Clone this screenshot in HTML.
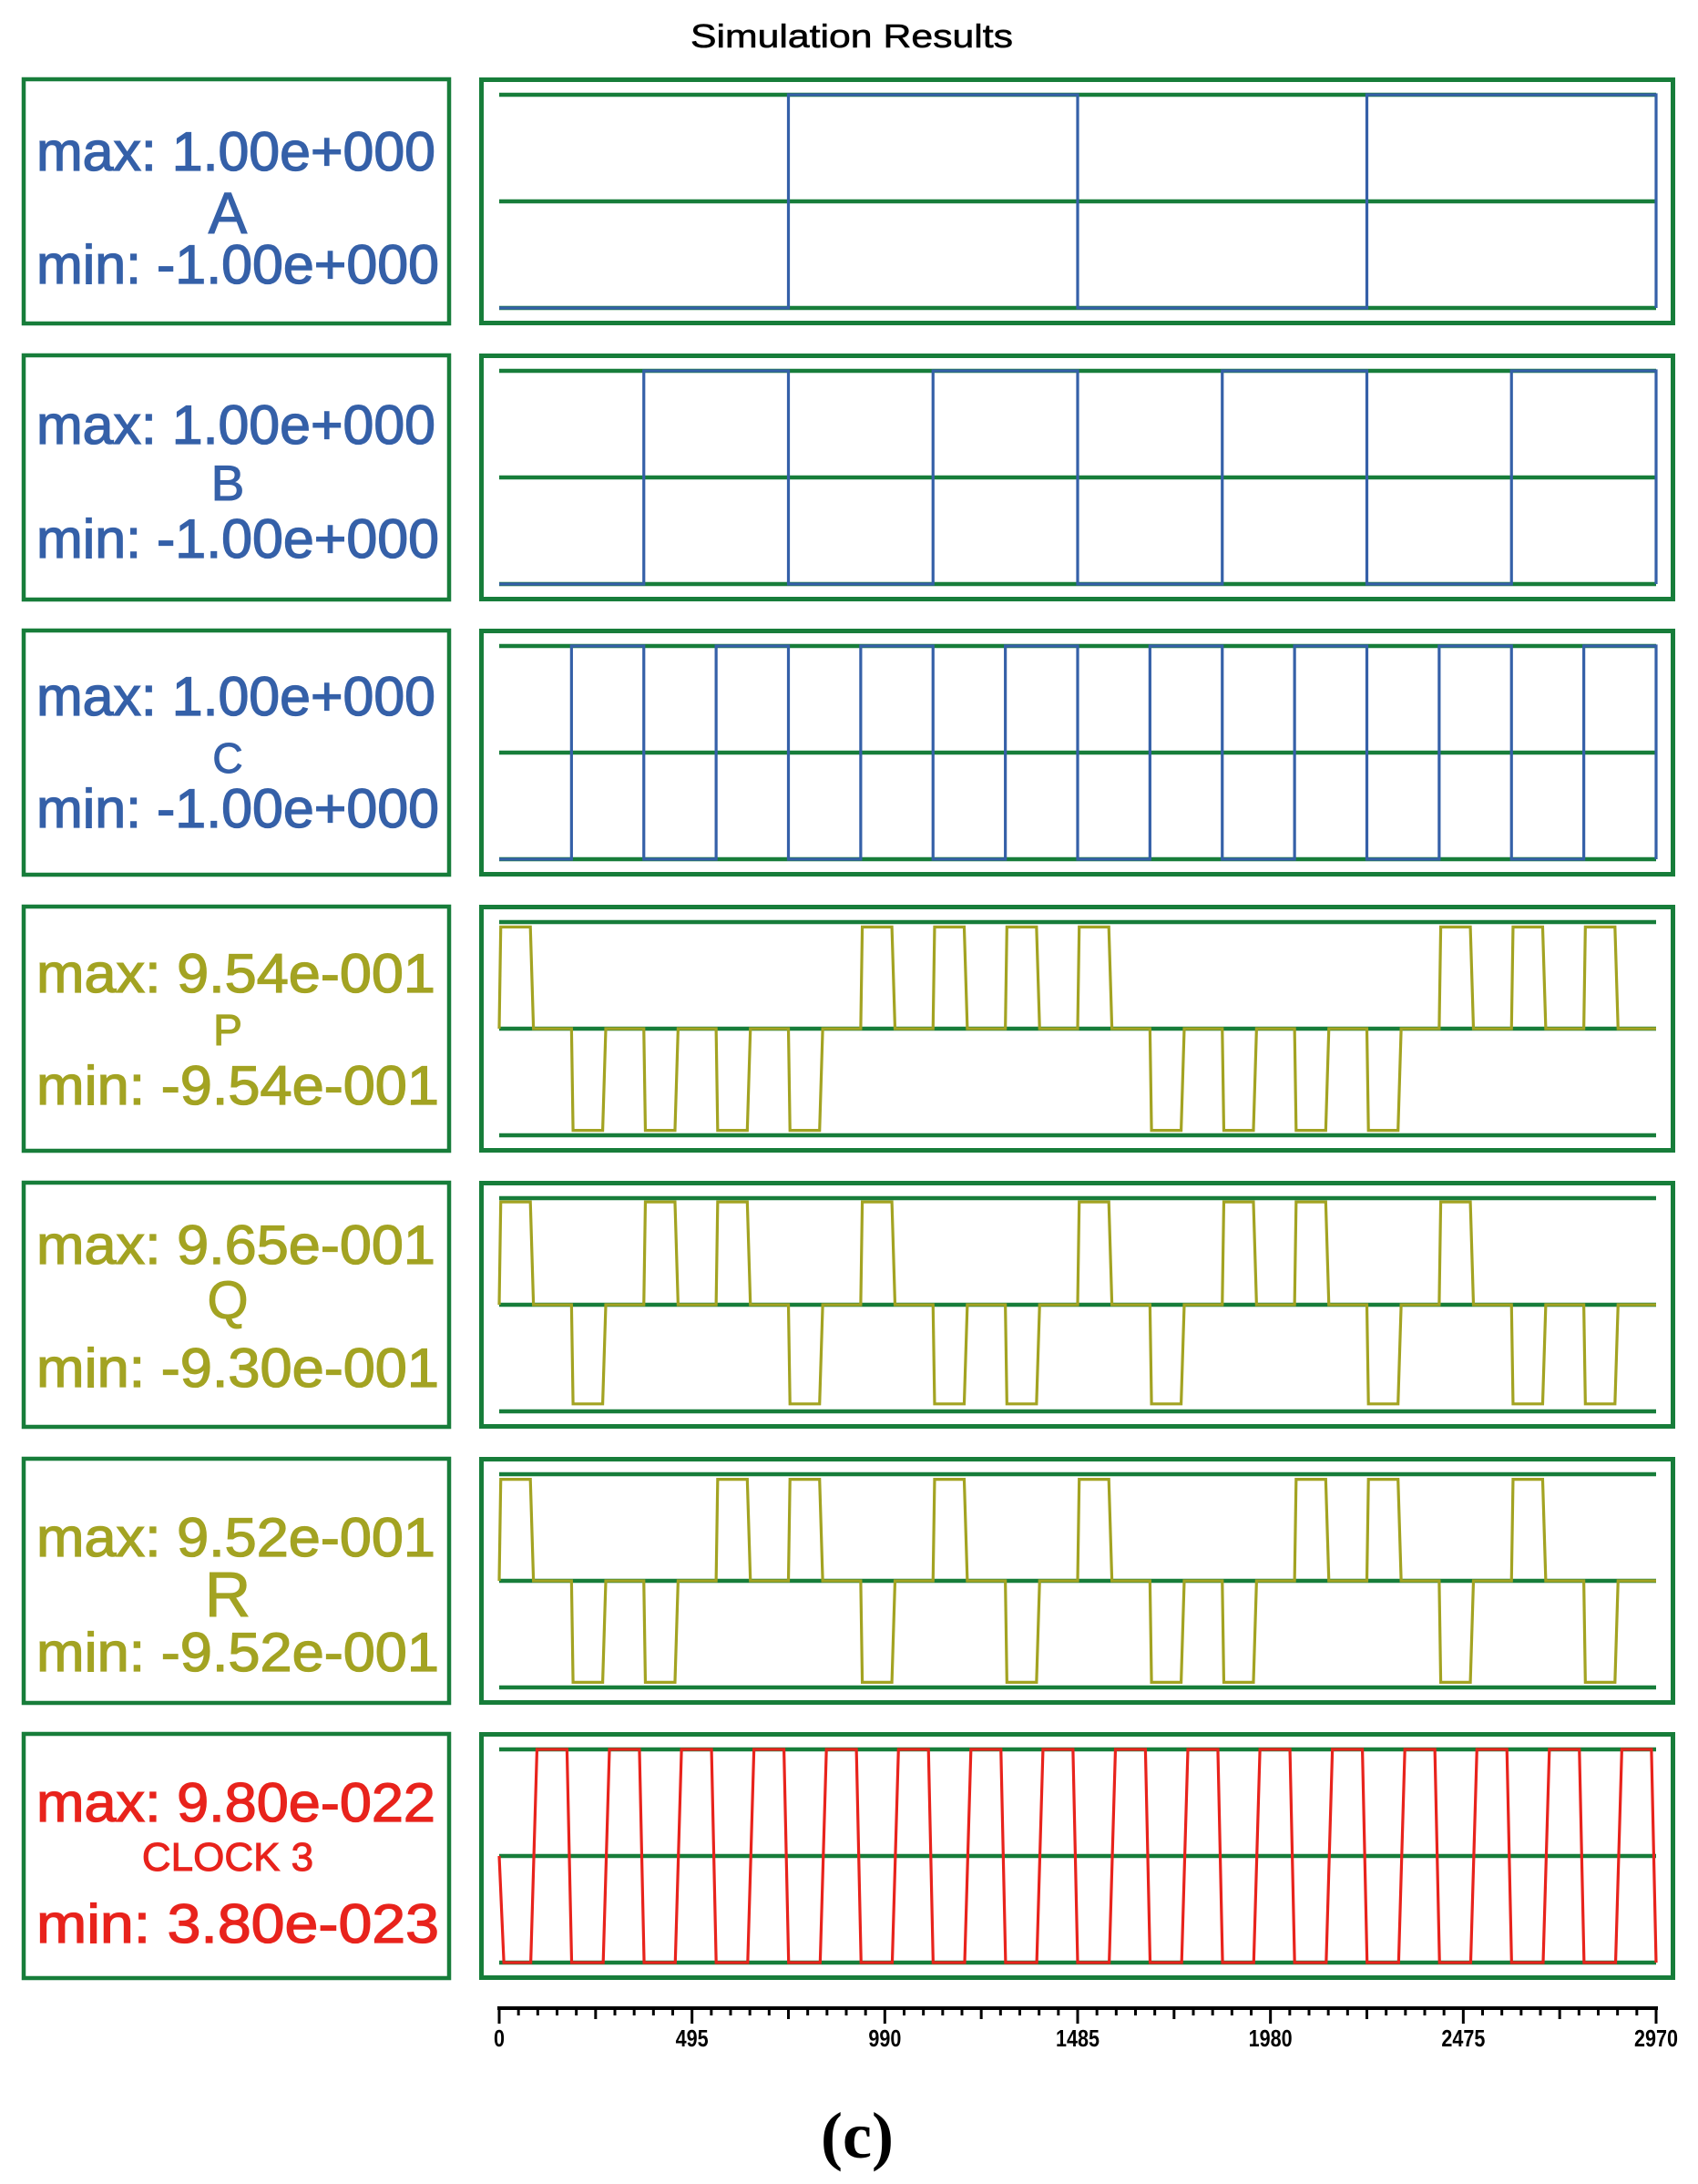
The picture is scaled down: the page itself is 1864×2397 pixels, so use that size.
<!DOCTYPE html>
<html><head><meta charset="utf-8"><style>
html,body{margin:0;padding:0;background:#fff;}
svg{display:block;}
text{font-family:"Liberation Sans",sans-serif;}
</style></head><body>
<svg id="chart" width="1864" height="2397" viewBox="0 0 1864 2397" xmlns="http://www.w3.org/2000/svg">
<text x="935" y="52" font-size="36" text-anchor="middle" textLength="354" lengthAdjust="spacingAndGlyphs" fill="#000" stroke="#000" stroke-width="0.6">Simulation Results</text>
<g id="panels"></g>
<g id="axis"></g>
<text x="941" y="2368" font-size="72" font-weight="bold" text-anchor="middle" style="font-family:'Liberation Serif',serif" fill="#000">(c)</text>
</svg>
<script>
// ---- data ----
const panelNames = ["A","B","C","P","Q","R","CLOCK 3"];
const maxLabels = ["max: 1.00e+000","max: 1.00e+000","max: 1.00e+000","max: 9.54e-001","max: 9.65e-001","max: 9.52e-001","max: 9.80e-022"];
const minLabels = ["min: -1.00e+000","min: -1.00e+000","min: -1.00e+000","min: -9.54e-001","min: -9.30e-001","min: -9.52e-001","min: 3.80e-023"];
// digital inputs: transition times and level after transition
const aTimes = [0, 742.5, 1485, 2227.5, 2970];
const aLevels = [-1, 1, -1, 1, -1];
const bTimes = [0, 371.25, 742.5, 1113.75, 1485, 1856.25, 2227.5, 2598.75, 2970];
const bLevels = [-1, 1, -1, 1, -1, 1, -1, 1, -1];
const cTimes = [0, 185.6, 371.25, 556.9, 742.5, 928.1, 1113.75, 1299.4, 1485, 1670.6, 1856.25, 2041.9, 2227.5, 2413.1, 2598.75, 2784.4, 2970];
const cLevels = [-1, 1, -1, 1, -1, 1, -1, 1, -1, 1, -1, 1, -1, 1, -1, 1, -1];
// pulse outputs: one pulse per slot (+1 / -1)
const pSlots = [1,-1,-1,-1,-1,1,1,1,1,-1,-1,-1,-1,1,1,1];
const qSlots = [1,-1,1,1,-1,1,-1,-1,1,-1,1,1,-1,1,-1,-1];
const rSlots = [1,-1,-1,1,1,-1,1,-1,1,-1,-1,1,1,-1,1,-1];
const pAmp = [0.954, 0.954];
const qAmp = [0.965, 0.930];
const rAmp = [0.952, 0.952];
// clock rise-start times and fall-start times
const clockRise = [81, 267, 452, 638, 824, 1009, 1195, 1380, 1566, 1752, 1937, 2123, 2309, 2494, 2680, 2866];
const clockFall = [174, 360, 545, 731, 917, 1102, 1288, 1473, 1659, 1845, 2030, 2216, 2402, 2587, 2773, 2958];
const tickLabels = ["0","495","990","1485","1980","2475","2970"];
const tickValues = [0, 495, 990, 1485, 1980, 2475, 2970];

// ---- geometry ----
const NS = "http://www.w3.org/2000/svg";
const X0 = 548, X1 = 1818, TMAX = 2970, SLOT = 2970/16;
const panelTops = [85, 388, 690, 993, 1296, 1599, 1901];
const GREEN = "#177d3a", BLUE = "#3560a8", OLIVE = "#a3a322", RED = "#e8231c";
const colors = [BLUE, BLUE, BLUE, OLIVE, OLIVE, OLIVE, RED];
const textY = [[102,171,226],[99,161,224],[95,158,218],[96,154,219],[91,151,226],[109,175,235],[98,152,231]];
const labelSize = [64,55,46,48,58,70,44];
function xs(t){ return X0 + t / TMAX * (X1 - X0); }
function ys(v, top){ return top + 136 - v * 117; }
function mk(tag, attrs, parent){ const e = document.createElementNS(NS, tag); for (const k in attrs) e.setAttribute(k, attrs[k]); parent.appendChild(e); return e; }

const panels = document.getElementById("panels");
function stepPath(times, levels, top){
  let d = "M" + xs(times[0]) + "," + ys(levels[0], top);
  for (let i = 1; i < times.length; i++){
    d += " L" + xs(times[i]) + "," + ys(levels[i-1], top) + " L" + xs(times[i]) + "," + ys(levels[i], top);
  }
  return d;
}
function pulsePath(slots, amp, top){
  let d = "M" + xs(0) + "," + ys(0, top);
  for (let i = 0; i < slots.length; i++){
    const s = i * SLOT, v = slots[i] > 0 ? amp[0] : -amp[1];
    d += " L" + xs(s) + "," + ys(0, top) + " L" + xs(s + 4) + "," + ys(v, top) + " L" + xs(s + 80) + "," + ys(v, top) + " L" + xs(s + 88) + "," + ys(0, top);
  }
  d += " L" + xs(TMAX) + "," + ys(0, top);
  return d;
}
function clockPath(top){
  let d = "M" + xs(0) + "," + ys(0, top) + " L" + xs(12) + "," + ys(-1, top);
  for (let i = 0; i < clockRise.length; i++){
    d += " L" + xs(clockRise[i]) + "," + ys(-1, top) + " L" + xs(clockRise[i] + 16) + "," + ys(1, top) + " L" + xs(clockFall[i]) + "," + ys(1, top) + " L" + xs(Math.min(clockFall[i] + 12, TMAX)) + "," + ys(-1, top);
  }
  d += " L" + xs(TMAX) + "," + ys(-1, top);
  return d;
}

for (let i = 0; i < panelNames.length; i++){
  const top = panelTops[i], col = colors[i];
  const g = mk("g", {}, panels);
  
  
  const lb = mk("rect", {x:26, y:top+2, width:467, height:268, fill:"none", stroke:GREEN, "stroke-width":4.5}, g);
  
  
  const t1 = mk("text", {x:40, y:top+textY[i][0], "font-size":60, fill:col, stroke:col, "stroke-width":1.3, textLength:438, lengthAdjust:"spacingAndGlyphs"}, g);
  t1.textContent = maxLabels[i];
  
  
  const t2 = mk("text", {x:250, y:top+textY[i][1], "font-size":labelSize[i], fill:col, stroke:col, "stroke-width":1, "text-anchor":"middle"}, g);
  t2.textContent = panelNames[i];
  
  
  const t3 = mk("text", {x:40, y:top+textY[i][2], "font-size":60, fill:col, stroke:col, "stroke-width":1.3, textLength:442, lengthAdjust:"spacingAndGlyphs"}, g);
  t3.textContent = minLabels[i];
  
  
  const pb = mk("rect", {x:528.5, y:top+2.5, width:1308, height:267, fill:"none", stroke:GREEN, "stroke-width":5}, g);
  
  
  [1, 0, -1].forEach(v => {
    const ln = mk("line", {x1:X0, x2:X1, y1:ys(v, top), y2:ys(v, top), stroke:GREEN, "stroke-width":4.5}, g);
    
    
  });
  let d;
  if (i === 0) d = stepPath(aTimes, aLevels, top);
  else if (i === 1) d = stepPath(bTimes, bLevels, top);
  else if (i === 2) d = stepPath(cTimes, cLevels, top);
  else if (i === 3) d = pulsePath(pSlots, pAmp, top);
  else if (i === 4) d = pulsePath(qSlots, qAmp, top);
  else if (i === 5) d = pulsePath(rSlots, rAmp, top);
  else d = clockPath(top);
  const w = mk("path", {d:d, fill:"none", stroke:col, "stroke-width":3.2, "stroke-linejoin":"miter"}, g);
  
  
}

// ---- axis ----
const ax = document.getElementById("axis");
const al = mk("line", {x1:X0-2, x2:X1+2, y1:2204, y2:2204, stroke:"#000", "stroke-width":4}, ax);


for (let k = 0; k <= 60; k++){
  const t = k * 49.5;
  const len = (k % 10 === 0) ? 17 : (k % 5 === 0 ? 12 : 8);
  const tk = mk("line", {x1:xs(t), x2:xs(t), y1:2203, y2:2204+len, stroke:"#000", "stroke-width":3}, ax);
  
  
}
for (let i = 0; i < tickValues.length; i++){
  const tl = mk("text", {x:xs(tickValues[i]), y:2246, "font-size":26, "font-weight":"bold", "text-anchor":"middle", fill:"#000", textLength:tickLabels[i].length*12, lengthAdjust:"spacingAndGlyphs"}, ax);
  tl.textContent = tickLabels[i];
  
  
}
</script>
</body></html>
